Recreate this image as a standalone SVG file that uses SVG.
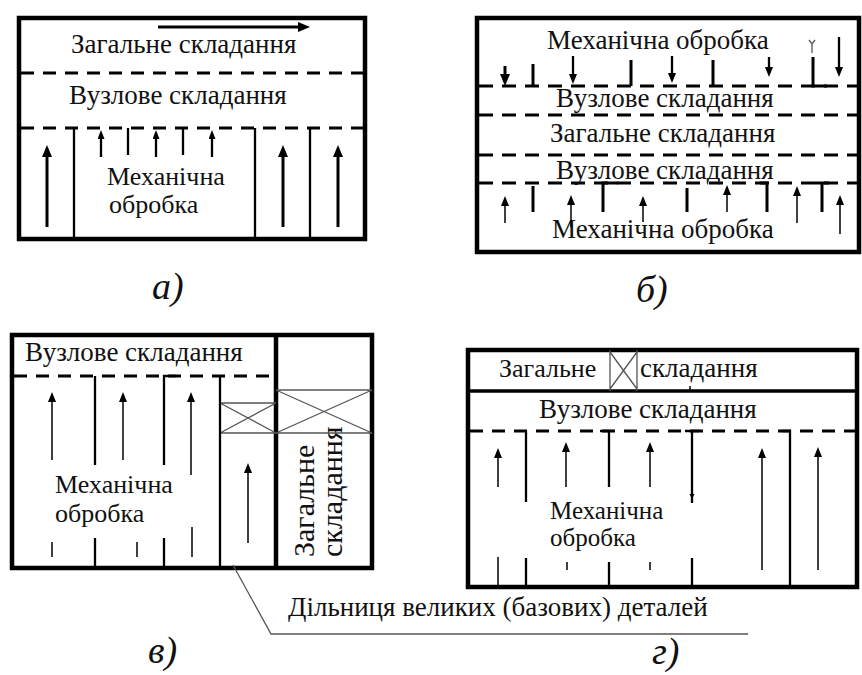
<svg xmlns="http://www.w3.org/2000/svg" width="862" height="675" viewBox="0 0 862 675">
<defs>
<marker id="big" viewBox="0 0 12 10" refX="4" refY="5" markerWidth="12" markerHeight="10" markerUnits="userSpaceOnUse" orient="auto"><path d="M0,0 L12,5 L0,10 z" fill="#000"/></marker>
<marker id="mid" viewBox="0 0 10 8" refX="3" refY="4" markerWidth="10" markerHeight="8" markerUnits="userSpaceOnUse" orient="auto"><path d="M0,0 L10,4 L0,8 z" fill="#000"/></marker>
<marker id="sm" viewBox="0 0 9 7" refX="3" refY="3.5" markerWidth="9" markerHeight="7" markerUnits="userSpaceOnUse" orient="auto"><path d="M0,0 L9,3.5 L0,7 z" fill="#000"/></marker>
</defs>
<rect width="862" height="675" fill="#fff"/>

<g id="panel-a">
<rect x="19" y="18" width="346" height="221" fill="none" stroke="#000" stroke-width="4.5"/>
<g stroke="#000" stroke-width="3" stroke-dasharray="13 9">
<line x1="21" y1="73" x2="363" y2="73"/>
<line x1="21" y1="128" x2="363" y2="128"/>
</g>
<text font-family="Liberation Serif" font-size="27" fill="#111" x="71" y="53">Загальне складання</text>
<text font-family="Liberation Serif" font-size="27" fill="#111" x="69" y="104">Вузлове складання</text>
<text font-family="Liberation Serif" font-size="26" fill="#111" x="107" y="185">Механічна</text>
<text font-family="Liberation Serif" font-size="26" fill="#111" x="109" y="213">обробка</text>
<g stroke="#000" stroke-width="2.3">
<line x1="74" y1="128" x2="74" y2="237"/>
<line x1="255" y1="128" x2="255" y2="237"/>
<line x1="310" y1="128" x2="310" y2="237"/>
<line x1="128" y1="128" x2="128" y2="155"/>
<line x1="183" y1="128" x2="183" y2="155"/>
</g>
</g>

<g id="panel-b">
<rect x="477" y="18" width="382" height="234" fill="none" stroke="#000" stroke-width="4.5"/>
<g stroke="#000" stroke-width="3" stroke-dasharray="14 9">
<line x1="479" y1="86" x2="857" y2="86"/>
<line x1="479" y1="115" x2="857" y2="115"/>
<line x1="479" y1="155" x2="857" y2="155"/>
<line x1="479" y1="183" x2="857" y2="183"/>
</g>
<text font-family="Liberation Serif" font-size="27" fill="#111" x="547" y="49">Механічна обробка</text>
<text font-family="Liberation Serif" font-size="27" fill="#111" x="556" y="107">Вузлове складання</text>
<text font-family="Liberation Serif" font-size="27" fill="#111" x="550" y="142">Загальне складання</text>
<text font-family="Liberation Serif" font-size="27" fill="#111" x="556" y="179">Вузлове складання</text>
<text font-family="Liberation Serif" font-size="27" fill="#111" x="552" y="238">Механічна обробка</text>
<g stroke="#000" stroke-width="3" fill="none">
<line x1="533" y1="64" x2="533" y2="86"/>
<line x1="631" y1="60" x2="631" y2="86"/>
<line x1="713" y1="60" x2="713" y2="86"/>
<path d="M813,57 V86 H827"/>
<line x1="533" y1="186" x2="533" y2="212"/>
<path d="M618,183 H603 V212"/>
<line x1="687" y1="188" x2="687" y2="212"/>
<path d="M760,183 H767 V212"/>
<path d="M815,183 H829 M822,183 V212"/>
</g>
<path d="M809,40 L812,44 L815,40 M812,44 V53" fill="none" stroke="#555" stroke-width="1.3"/>
</g>

<g id="panel-c">
<rect x="12" y="335" width="360" height="233" fill="none" stroke="#000" stroke-width="4.5"/>
<line x1="276" y1="335" x2="276" y2="568" stroke="#000" stroke-width="4.5"/>
<line x1="14" y1="376" x2="274" y2="376" stroke="#000" stroke-width="3" stroke-dasharray="13 9"/>
<text font-family="Liberation Serif" font-size="27" fill="#111" x="25" y="361">Вузлове складання</text>
<text font-family="Liberation Serif" font-size="26" fill="#111" x="55" y="493">Механічна</text>
<text font-family="Liberation Serif" font-size="26" fill="#111" x="55" y="522">обробка</text>
<text font-family="Liberation Serif" font-size="30" fill="#111" transform="translate(314,557) rotate(-90)">Загальне</text>
<text font-family="Liberation Serif" font-size="30" fill="#111" transform="translate(342,557) rotate(-90)">складання</text>
<g fill="none" stroke="#555" stroke-width="1.3">
<path d="M276,390 H372 M276,433 H372 M276,390 L372,433 M276,433 L372,390"/>
<path d="M220,403 H276 M220,433 H276 M220,403 L276,433 M220,433 L276,403"/>
</g>
<g stroke="#000" stroke-width="2.3" fill="none">
<line x1="220" y1="376" x2="220" y2="568"/>
<line x1="95" y1="376" x2="95" y2="465"/>
<path d="M176,376 H164 V465"/>
<line x1="95" y1="538" x2="95" y2="568"/>
<line x1="164" y1="538" x2="164" y2="568"/>
</g>
<g stroke="#000" stroke-width="1.5">
<line x1="52" y1="542" x2="52" y2="557"/>
<line x1="137" y1="542" x2="137" y2="557"/>
<line x1="192" y1="527" x2="192" y2="557"/>
</g>
</g>

<g id="panel-d">
<rect x="468" y="350" width="389" height="237" fill="none" stroke="#000" stroke-width="4.5"/>
<line x1="468" y1="391" x2="857" y2="391" stroke="#000" stroke-width="3.5"/>
<path d="M610,350 V391 M637,350 V391 M610,352 L637,389 M610,389 L637,352" fill="none" stroke="#555" stroke-width="1.3"/>
<line x1="690" y1="386" x2="690" y2="391" stroke="#000" stroke-width="1.5"/>
<line x1="470" y1="431" x2="855" y2="431" stroke="#000" stroke-width="3" stroke-dasharray="13 9"/>
<text font-family="Liberation Serif" font-size="26" fill="#111" x="499" y="377">Загальне</text>
<text font-family="Liberation Serif" font-size="27" fill="#111" x="640" y="377">складання</text>
<text font-family="Liberation Serif" font-size="27" fill="#111" x="539" y="418">Вузлове складання</text>
<text font-family="Liberation Serif" font-size="25" fill="#111" x="550" y="519">Механічна</text>
<text font-family="Liberation Serif" font-size="25" fill="#111" x="550" y="546">обробка</text>
<g stroke="#000" stroke-width="2.3" fill="none">
<line x1="526" y1="431" x2="526" y2="502"/>
<path d="M600,431 H609 V487"/>
<path d="M685,431 H699 M692,431 V503"/>
<path d="M782,431 H790 V587"/>
<line x1="526" y1="558" x2="526" y2="587"/>
<line x1="609" y1="562" x2="609" y2="587"/>
<line x1="692" y1="558" x2="692" y2="587"/>
</g>
<path d="M689.5,494 L694.5,494 L692,499 z" fill="#000"/>
<g stroke="#000" stroke-width="1.5">
<line x1="498" y1="557" x2="498" y2="587"/>
<line x1="567" y1="562" x2="567" y2="570"/>
<line x1="650" y1="562" x2="650" y2="570"/>
</g>
</g>

<g id="leader-label">
<text font-family="Liberation Serif" font-size="27" fill="#111" x="288" y="616">Дільниця великих (базових) деталей</text>
</g>

<g id="captions">
<text font-family="Liberation Serif" font-size="38" font-style="italic" fill="#111" x="152" y="299">а)</text>
<text font-family="Liberation Serif" font-size="38" font-style="italic" fill="#111" x="636" y="302">б)</text>
<text font-family="Liberation Serif" font-size="38" font-style="italic" fill="#111" x="148" y="663">в)</text>
<text font-family="Liberation Serif" font-size="38" font-style="italic" fill="#111" x="652" y="664">г)</text>
</g>

<g id="connectors" stroke="#000" fill="none">
<g stroke-width="3" marker-end="url(#big)">
<line x1="158" y1="27" x2="302" y2="27"/>
<line x1="47" y1="227" x2="47" y2="153"/>
<line x1="283" y1="227" x2="283" y2="153"/>
<line x1="338" y1="227" x2="338" y2="153"/>
<line x1="505" y1="66" x2="505" y2="78"/>
</g>
<g stroke-width="2.3" marker-end="url(#sm)">
<line x1="101" y1="157" x2="101" y2="136"/>
<line x1="156" y1="157" x2="156" y2="136"/>
<line x1="212" y1="157" x2="212" y2="136"/>
</g>
<g stroke-width="2.3" marker-end="url(#mid)">
<line x1="573" y1="56" x2="573" y2="77"/>
<line x1="672" y1="56" x2="672" y2="76"/>
<line x1="769" y1="57" x2="769" y2="70"/>
<line x1="839" y1="37" x2="839" y2="70"/>
</g>
<g stroke-width="1.5" marker-end="url(#mid)">
<line x1="505" y1="223" x2="505" y2="203"/>
<line x1="571" y1="227" x2="571" y2="202"/>
<line x1="643" y1="222" x2="643" y2="203"/>
<line x1="727" y1="212" x2="727" y2="192"/>
<line x1="797" y1="223" x2="797" y2="193"/>
<line x1="840" y1="234" x2="840" y2="202"/>
<line x1="52" y1="460" x2="52" y2="399"/>
<line x1="123" y1="460" x2="123" y2="399"/>
<line x1="191" y1="475" x2="191" y2="399"/>
<line x1="248" y1="543" x2="248" y2="470"/>
<line x1="498" y1="487" x2="498" y2="455"/>
<line x1="566" y1="487" x2="566" y2="449"/>
<line x1="650" y1="487" x2="650" y2="449"/>
<line x1="762" y1="570" x2="762" y2="455"/>
<line x1="818" y1="570" x2="818" y2="454"/>
</g>
<polyline points="233,565 271,634 748,634" stroke="#555" stroke-width="1.3"/>
</g>
</svg>
